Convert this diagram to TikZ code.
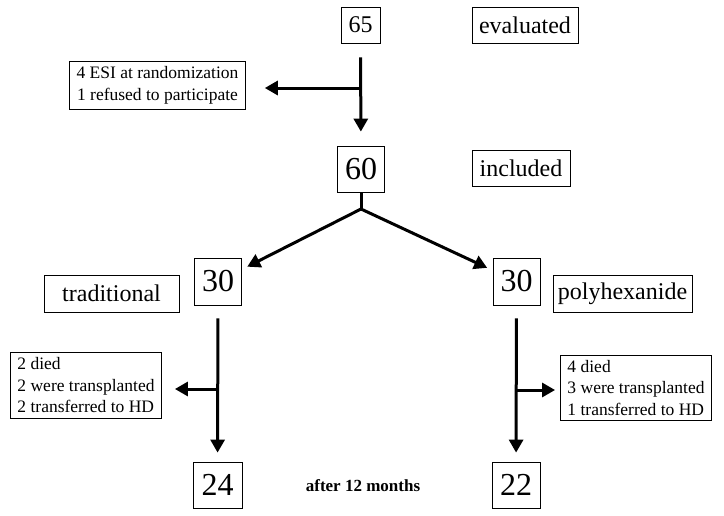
\documentclass[tikz,border=0pt]{standalone}
\usepackage{fontspec}
\setmainfont{Liberation Serif}
\usetikzlibrary{arrows.meta,positioning,calc}

\begin{document}
\begin{tikzpicture}[x=1pt, y=-1pt,
    num/.style={draw, line width=0.8pt, inner sep=0pt,
        minimum width=47pt, minimum height=46pt,
        font=\fontsize{32}{36}\selectfont},
    tag/.style={draw, line width=0.8pt, inner sep=0pt,
        minimum height=36pt, font=\fontsize{24}{28}\selectfont},
    note/.style={draw, line width=0.8pt, align=left, inner xsep=7pt,
        inner ysep=5pt, font=\fontsize{17.5}{21.5}\selectfont},
    arr/.style={-{Triangle[length=13pt, width=14pt]}, line width=3pt},
    stem/.style={line width=3pt}
]
    \useasboundingbox (0,0) rectangle (724,515);

    % Screening
    \node[num, minimum width=39pt, minimum height=36pt,
        font=\fontsize{24}{28}\selectfont] (n65) at (360.5,25) {65};
    \node[tag, minimum width=106pt] (evaluated) at (525,25) {evaluated};
    \node[note, align=center] (excl) at (157.5,85.5)
        {4 ESI at randomization\\1 refused to participate};

    % Included
    \node[num] (n60) at (361,169) {60};
    \node[tag, minimum width=98pt] (included) at (521,168) {included};

    % Randomised groups
    \node[num, minimum height=47pt] (n30l) at (218,281.5) {30};
    \node[num, minimum height=47pt] (n30r) at (516.5,281.5) {30};
    \node[tag, minimum width=135pt, minimum height=37pt] (trad) at (111.5,293.5) {traditional};
    \node[tag, minimum width=139pt, minimum height=37pt] (poly) at (622.5,293.5) {polyhexanide};

    % Drop-outs
    \node[note] (remL) at (86,385.5)
        {2 died\\2 were transplanted\\2 transferred to HD};
    \node[note] (remR) at (636,388)
        {4 died\\3 were transplanted\\1 transferred to HD};

    % After follow-up
    \node[num, minimum width=49pt] (n24) at (217.5,485) {24};
    \node[num, minimum width=48pt] (n22) at (516,485) {22};
    \node[font=\fontsize{17}{20}\selectfont\bfseries] (after) at (363,486) {after 12 months};

    % Junction points
    \coordinate (j1) at (361,88);
    \coordinate (fork) at (361,209);
    \coordinate (jl) at (218,389);
    \coordinate (jr) at (517,390);

    % Arrows: screening
    \draw[arr, shorten <=14pt, shorten >=14pt] (n65) -- (n60);
    \draw[arr, shorten >=19pt] (j1) -- (j1 -| excl.east);

    % Arrows: randomisation
    \draw[stem, shorten >=-1pt] (n60) -- (fork);
    \draw[arr, shorten >=6pt] (fork) -- (n30l);
    \draw[arr, shorten >=6pt] (fork) -- (n30r);

    % Arrows: follow-up
    \draw[arr, shorten <=13pt, shorten >=9pt] (n30l) -- (n24);
    \draw[arr, shorten <=13pt, shorten >=9pt] (n30r) -- (n22);
    \draw[arr, shorten >=13pt] (jl) -- (jl -| remL.east);
    \draw[arr, shorten >=5pt] (jr) -- (jr -| remR.west);
\end{tikzpicture}
\end{document}
